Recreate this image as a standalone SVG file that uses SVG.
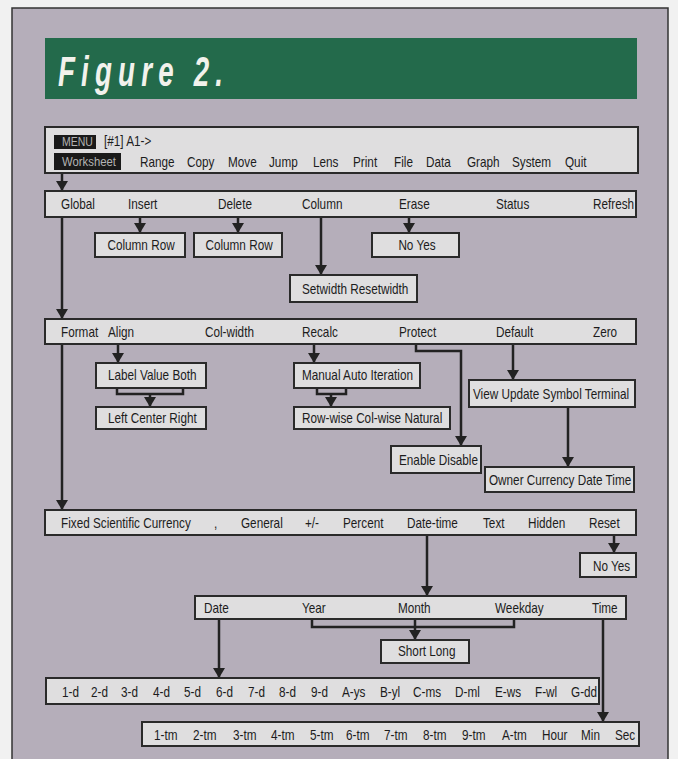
<svg xmlns="http://www.w3.org/2000/svg" width="678" height="759" viewBox="0 0 678 759">
<defs>
<style>
.box{fill:#dfdedf;stroke:#2a2a2a;stroke-width:2}
.t{font-family:"Liberation Sans",Arial,sans-serif;font-size:14px;fill:#1c1c1c;transform:scaleX(0.84);transform-box:fill-box;transform-origin:0 0}
.c{text-anchor:middle;transform-origin:50% 0}
.inv{fill:#b4b4b4;font-size:12.5px}
.blk{fill:#1a1a1a}
.ln{fill:none;stroke:#222;stroke-width:2.5}
.ttl{font-family:"Liberation Sans",Arial,sans-serif;font-size:42px;font-style:italic;font-weight:bold;fill:#f2f2ec;transform:scaleX(0.66);transform-box:fill-box;transform-origin:0 0}
</style>
<marker id="ah" viewBox="0 -6 10 12" refX="10" refY="0" markerWidth="10" markerHeight="12" markerUnits="userSpaceOnUse" orient="auto">
<path d="M0,-6 L10,0 L0,6 z" fill="#222"/>
</marker>
</defs>
<rect x="0" y="0" width="678" height="759" fill="#f1f1f1"/>
<rect x="12" y="8" width="656" height="760" fill="#b5aeba" stroke="#333" stroke-width="1.5"/>
<g id="title">
<rect x="45" y="38" width="592" height="61" fill="#236a4b"/>
<text class="ttl" x="58" y="86" textLength="250" lengthAdjust="spacing">Figure 2.</text>
</g>

<g id="connectors">
<line class="ln" x1="62" y1="173" x2="62" y2="191" marker-end="url(#ah)"/>
<line class="ln" x1="62" y1="217" x2="62" y2="319" marker-end="url(#ah)"/>
<line class="ln" x1="140" y1="217" x2="140" y2="233" marker-end="url(#ah)"/>
<line class="ln" x1="238" y1="217" x2="238" y2="233" marker-end="url(#ah)"/>
<line class="ln" x1="321" y1="217" x2="321" y2="275" marker-end="url(#ah)"/>
<line class="ln" x1="409" y1="217" x2="409" y2="233" marker-end="url(#ah)"/>
<line class="ln" x1="62" y1="344" x2="62" y2="510" marker-end="url(#ah)"/>
<line class="ln" x1="118" y1="344" x2="118" y2="363" marker-end="url(#ah)"/>
<polyline class="ln" points="117,388 117,394 183,394 183,388"/>
<line class="ln" x1="150" y1="394" x2="150" y2="407" marker-end="url(#ah)"/>
<line class="ln" x1="314" y1="344" x2="314" y2="363" marker-end="url(#ah)"/>
<polyline class="ln" points="317,388 317,394 346,394 346,388"/>
<line class="ln" x1="331" y1="394" x2="331" y2="407" marker-end="url(#ah)"/>
<polyline class="ln" points="416,344 416,351 461,351 461,446" marker-end="url(#ah)"/>
<line class="ln" x1="513" y1="344" x2="513" y2="380" marker-end="url(#ah)"/>
<line class="ln" x1="568" y1="407" x2="568" y2="467" marker-end="url(#ah)"/>
<line class="ln" x1="614" y1="535" x2="614" y2="553" marker-end="url(#ah)"/>
<line class="ln" x1="427" y1="535" x2="427" y2="596" marker-end="url(#ah)"/>
<polyline class="ln" points="312,619 312,627 514,627 514,619"/>
<line class="ln" x1="415" y1="619" x2="415" y2="640" marker-end="url(#ah)"/>
<line class="ln" x1="219" y1="619" x2="219" y2="678" marker-end="url(#ah)"/>
<line class="ln" x1="603" y1="619" x2="603" y2="722" marker-end="url(#ah)"/>
</g>

<g id="menu">
<rect class="box" x="45" y="127" width="593" height="46"/>
<rect class="blk" x="54" y="135" width="42" height="14"/>
<text class="t inv" x="62" y="146">MENU</text>
<text class="t" x="104" y="146">[#1] A1-&gt;</text>
<rect class="blk" x="54" y="153" width="67" height="17"/>
<text class="t inv" x="62" y="166" style="font-size:13.5px">Worksheet</text>
<text class="t" x="140" y="167">Range</text>
<text class="t" x="187" y="167">Copy</text>
<text class="t" x="228" y="167">Move</text>
<text class="t" x="269" y="167">Jump</text>
<text class="t" x="313" y="167">Lens</text>
<text class="t" x="353" y="167">Print</text>
<text class="t" x="394" y="167">File</text>
<text class="t" x="426" y="167">Data</text>
<text class="t" x="467" y="167">Graph</text>
<text class="t" x="512" y="167">System</text>
<text class="t" x="565" y="167">Quit</text>
</g>

<g id="global">
<rect class="box" x="45" y="191" width="591" height="26"/>
<text class="t" x="61" y="209">Global</text>
<text class="t" x="128" y="209">Insert</text>
<text class="t" x="218" y="209">Delete</text>
<text class="t" x="302" y="209">Column</text>
<text class="t" x="399" y="209">Erase</text>
<text class="t" x="496" y="209">Status</text>
<text class="t" x="593" y="209">Refresh</text>
</g>
<g id="insert-colrow">
<rect class="box" x="95" y="233" width="90" height="24"/>
<text class="t c" x="141" y="250">Column Row</text>
</g>
<g id="delete-colrow">
<rect class="box" x="194" y="233" width="88" height="24"/>
<text class="t c" x="239" y="250">Column Row</text>
</g>
<g id="erase-noyes">
<rect class="box" x="372" y="233" width="87" height="24"/>
<text class="t c" x="417" y="250">No Yes</text>
</g>
<g id="setwidth">
<rect class="box" x="290" y="275" width="127" height="27"/>
<text class="t" x="302" y="294">Setwidth Resetwidth</text>
</g>

<g id="format">
<rect class="box" x="45" y="319" width="591" height="25"/>
<text class="t" x="61" y="337">Format</text>
<text class="t" x="108" y="337">Align</text>
<text class="t" x="205" y="337">Col-width</text>
<text class="t" x="302" y="337">Recalc</text>
<text class="t" x="399" y="337">Protect</text>
<text class="t" x="496" y="337">Default</text>
<text class="t" x="593" y="337">Zero</text>
</g>
<g id="align">
<rect class="box" x="96" y="363" width="110" height="25"/>
<text class="t" x="108" y="380">Label Value Both</text>
</g>
<g id="align2">
<rect class="box" x="96" y="407" width="110" height="22"/>
<text class="t" x="108" y="423">Left Center Right</text>
</g>
<g id="recalc">
<rect class="box" x="294" y="363" width="126" height="25"/>
<text class="t" x="302" y="380">Manual Auto Iteration</text>
</g>
<g id="recalc2">
<rect class="box" x="294" y="407" width="156" height="22"/>
<text class="t" x="302" y="423">Row-wise Col-wise Natural</text>
</g>
<g id="protect">
<rect class="box" x="391" y="446" width="90" height="27"/>
<text class="t" x="399" y="465">Enable Disable</text>
</g>
<g id="default">
<rect class="box" x="469" y="380" width="166" height="27"/>
<text class="t" x="473" y="399">View Update Symbol Terminal</text>
</g>
<g id="default2">
<rect class="box" x="485" y="467" width="149" height="25"/>
<text class="t" x="489" y="485">Owner Currency Date Time</text>
</g>

<g id="fixed">
<rect class="box" x="45" y="510" width="591" height="25"/>
<text class="t" x="61" y="528">Fixed Scientific Currency</text>
<text class="t" x="214" y="528">,</text>
<text class="t" x="241" y="528">General</text>
<text class="t" x="305" y="528">+/-</text>
<text class="t" x="343" y="528">Percent</text>
<text class="t" x="407" y="528">Date-time</text>
<text class="t" x="483" y="528">Text</text>
<text class="t" x="528" y="528">Hidden</text>
<text class="t" x="589" y="528">Reset</text>
</g>
<g id="reset">
<rect class="box" x="580" y="553" width="56" height="24"/>
<text class="t" x="593" y="571">No Yes</text>
</g>
<g id="datetime">
<rect class="box" x="195" y="596" width="431" height="23"/>
<text class="t" x="204" y="613">Date</text>
<text class="t" x="302" y="613">Year</text>
<text class="t" x="398" y="613">Month</text>
<text class="t" x="495" y="613">Weekday</text>
<text class="t" x="592" y="613">Time</text>
</g>
<g id="shortlong">
<rect class="box" x="381" y="640" width="88" height="23"/>
<text class="t" x="398" y="656">Short Long</text>
</g>
<g id="dates">
<rect class="box" x="46" y="678" width="553" height="26"/>
<text class="t" x="62" y="697">1-d</text>
<text class="t" x="91" y="697">2-d</text>
<text class="t" x="121" y="697">3-d</text>
<text class="t" x="153" y="697">4-d</text>
<text class="t" x="184" y="697">5-d</text>
<text class="t" x="216" y="697">6-d</text>
<text class="t" x="248" y="697">7-d</text>
<text class="t" x="279" y="697">8-d</text>
<text class="t" x="311" y="697">9-d</text>
<text class="t" x="342" y="697">A-ys</text>
<text class="t" x="380" y="697">B-yl</text>
<text class="t" x="413" y="697">C-ms</text>
<text class="t" x="455" y="697">D-ml</text>
<text class="t" x="495" y="697">E-ws</text>
<text class="t" x="535" y="697">F-wl</text>
<text class="t" x="571" y="697">G-dd</text>
</g>
<g id="times">
<rect class="box" x="142" y="722" width="497" height="24"/>
<text class="t" x="154" y="740">1-tm</text>
<text class="t" x="193" y="740">2-tm</text>
<text class="t" x="233" y="740">3-tm</text>
<text class="t" x="271" y="740">4-tm</text>
<text class="t" x="310" y="740">5-tm</text>
<text class="t" x="346" y="740">6-tm</text>
<text class="t" x="384" y="740">7-tm</text>
<text class="t" x="423" y="740">8-tm</text>
<text class="t" x="462" y="740">9-tm</text>
<text class="t" x="502" y="740">A-tm</text>
<text class="t" x="542" y="740">Hour</text>
<text class="t" x="581" y="740">Min</text>
<text class="t" x="615" y="740">Sec</text>
</g>
</svg>
